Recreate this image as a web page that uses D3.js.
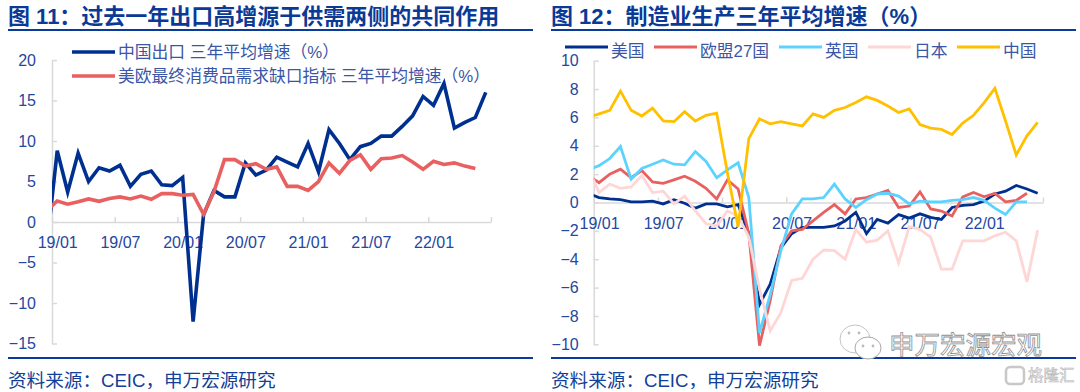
<!DOCTYPE html>
<html>
<head>
<meta charset="utf-8">
<script src="https://cdn.jsdelivr.net/npm/d3@7"></script>
<style>
html, body { margin: 0; padding: 0; background: #fff; }
svg { display: block; }
text { font-family: "Liberation Sans", "Noto Sans CJK SC", sans-serif; }
.title { font-size: 22px; font-weight: bold; fill: #0a3a96; }
.source { font-size: 18.6px; fill: #123f98; }
.legend { font-size: 16.8px; fill: #3a56a6; }
.tick text { font-size: 16px; fill: #24479f; }
.axis path, .axis line { stroke: #d9d9d9; stroke-width: 1.5; }
</style>
</head>
<body>
<svg id="chart" width="1080" height="392"></svg>
<script>
// month ticks shared by both charts (months since 19/01)
const tickMonths = [0, 6, 12, 18, 24, 30, 36, 42];
const tickLabels = ['19/01', '19/07', '20/01', '20/07', '21/01', '21/07', '22/01', ''];

// figure 11
const exportsCN = [-3, 8.8, 3.7, 8.5, 5.0, 6.7, 6.3, 7.0, 4.4, 5.9, 6.3, 4.6, 4.5, 5.5, -12.3, 0.9, 3.9, 3.1, 3.1, 7.3, 5.8, 6.4, 8.0, 7.4, 6.8, 9.7, 6.2, 11.4, 9.7, 7.7, 9.3, 9.7, 10.6, 10.6, 11.8, 13.1, 15.5, 14.4, 17.1, 11.6, 12.3, 12.9, 16.0];
const demandGap = [1.4, 2.6, 2.2, 2.5, 2.85, 2.55, 2.9, 3.1, 2.85, 3.2, 2.8, 3.5, 3.5, 3.3, 3.4, 0.95, 3.75, 7.7, 7.7, 6.9, 7.2, 6.5, 6.8, 4.4, 4.4, 3.9, 5.0, 7.3, 6.0, 7.6, 8.3, 6.5, 7.8, 7.9, 8.2, 7.4, 6.5, 7.5, 7.1, 7.3, 6.9, 6.6];
const leftTicks = [-15, -10, -5, 0, 5, 10, 15, 20];

// figure 12
const usa = [0.65, 0.35, 0.25, 0.2, 0.05, 0.05, 0.1, -0.1, 0.2, -0.05, -0.4, -0.1, -0.1, -0.3, -0.15, -2.2, -7.2, -5.75, -3.2, -2.2, -1.75, -1.75, -1.75, -1.65, -1.3, -0.7, -2.2, -1.2, -1.45, -0.85, -1.1, -0.8, -1.05, -1.2, -0.35, -0.2, -0.15, 0.1, 0.6, 0.8, 1.2, 0.95, 0.65];
const eu27 = [1.9, 1.4, 2.0, 2.35, 1.75, 2.25, 1.45, 1.35, 1.6, 1.85, 1.5, 1.0, 0.25, 1.6, 0.95, -2.2, -10.1, -6.9, -3.05, -2.0, -1.9, -1.3, -0.7, -0.15, -0.8, 0.25, 0.35, 0.6, 0.85, -0.35, -0.25, 0.75, -0.45, -0.6, -0.95, 0.4, 0.7, 0.4, 0.65, 0.05, 0.15, 0.65];
const uk = [2.3, 2.6, 3.1, 3.95, 1.65, 2.4, 2.7, 3.0, 2.7, 2.65, 3.6, 2.9, 1.75, 2.3, 2.8, 0.35, -9.2, -6.5, -3.4, -0.8, 0.25, 0.25, 0.35, 1.3, 0.25, -0.35, 0.2, 0.6, 0.65, 0.45, -0.1, 0.1, 0.05, 0.05, 0.15, 0.2, 0.35, 0.15, -0.4, -0.85, 0.05, 0.05];
const japan = [2.4, 0.7, 1.3, 1.0, 1.1, 1.9, 0.7, 0.8, -0.1, 0.45, -0.6, -1.5, -1.65, -0.6, -0.95, -2.45, -6.1, -9.05, -7.75, -5.5, -5.35, -4.0, -3.35, -3.4, -4.0, -1.9, -2.8, -2.65, -2.0, -4.25, -1.7, -1.9, -2.45, -4.7, -4.7, -2.7, -2.7, -2.7, -2.35, -2.1, -2.7, -5.6, -1.95];
const china = [6.0, 6.25, 6.5, 7.85, 6.5, 6.1, 6.65, 5.75, 5.7, 6.4, 5.75, 6.15, 6.3, 2.1, -1.7, 4.5, 5.9, 5.55, 5.7, 5.55, 5.4, 6.25, 6.0, 6.5, 6.7, 7.05, 7.45, 7.2, 6.8, 6.35, 6.6, 5.5, 5.25, 5.15, 4.8, 5.6, 6.15, 7.05, 8.05, 5.75, 3.35, 4.7, 5.65];
const rightTicks = [-10, -8, -6, -4, -2, 0, 2, 4, 6, 8, 10];

const svg = d3.select('#chart');

function drawPanel(cfg) {
    const g = svg.append('g');
    const x = d3.scaleLinear().domain([0, 42]).range([cfg.left, cfg.right]);
    const y = d3.scaleLinear().domain(cfg.yDomain).range([cfg.bottom, cfg.top]);

    // header and footer
    g.append('text').attr('class', 'title').attr('x', cfg.frameLeft).attr('y', 24).text(cfg.title);
    g.append('line').attr('x1', cfg.frameLeft).attr('x2', cfg.frameRight).attr('y1', 30).attr('y2', 30)
        .attr('stroke', '#0a3a9c').attr('stroke-width', 2);
    g.append('line').attr('x1', cfg.frameLeft).attr('x2', cfg.frameRight).attr('y1', 358).attr('y2', 358)
        .attr('stroke', '#0a3a9c').attr('stroke-width', 2);
    g.append('text').attr('class', 'source').attr('x', cfg.frameLeft).attr('y', 387).text('资料来源：CEIC，申万宏源研究');

    // axes
    g.append('g').attr('class', 'axis')
        .attr('transform', `translate(${cfg.left},0)`)
        .call(d3.axisLeft(y).tickValues(cfg.yTicks).tickSize(-5).tickSizeOuter(0).tickPadding(cfg.yPad));
    const xAxis = g.append('g').attr('class', 'axis')
        .attr('transform', `translate(0,${y(0)})`)
        .call(d3.axisBottom(x).tickValues(tickMonths).tickSize(-5).tickSizeOuter(0)
            .tickFormat((d, i) => tickLabels[i]));
    // labels sit in the middle of their month, ticks on the boundary
    xAxis.selectAll('.tick text')
        .attr('dx', x(0.5) - x(0))
        .attr('y', cfg.xLabelY)
        .attr('dy', '0');

    // lines, first value belongs to the month before the axis and gets clipped
    const clipId = 'clip' + cfg.left;
    g.append('clipPath').attr('id', clipId).append('rect')
        .attr('x', cfg.left).attr('y', 0).attr('width', cfg.right - cfg.left + 2).attr('height', 392);
    const line = d3.line().x((d, i) => x(i - 0.5)).y((d) => y(d)).curve(d3.curveLinear);
    g.append('g').attr('clip-path', `url(#${clipId})`)
        .selectAll('path').data(cfg.series).join('path')
        .attr('d', (d) => line(d.values))
        .attr('fill', 'none')
        .attr('stroke', (d) => d.color)
        .attr('stroke-width', cfg.lineWidth)
        .attr('stroke-linejoin', 'miter');

    // legend
    cfg.series.forEach((s) => {
        g.append('line').attr('x1', s.lx).attr('x2', s.lx + 43).attr('y1', s.ly).attr('y2', s.ly)
            .attr('stroke', s.color).attr('stroke-width', cfg.lineWidth);
        g.append('text').attr('class', 'legend').attr('x', s.lx + cfg.legendGap).attr('y', s.ly + cfg.legendDy).text(s.name);
    });
}

drawPanel({
    title: '图 11：过去一年出口高增源于供需两侧的共同作用',
    frameLeft: 8, frameRight: 533,
    left: 52, right: 491, top: 60, bottom: 343.5,
    yDomain: [-15, 20], yTicks: leftTicks, yPad: 16, xLabelY: 26,
    lineWidth: 3.6, legendGap: 46, legendDy: 6,
    series: [
        { name: '中国出口 三年平均增速（%）', values: exportsCN, color: '#00308f', lx: 72, ly: 52 },
        { name: '美欧最终消费品需求缺口指标 三年平均增速（%）', values: demandGap, color: '#e96060', lx: 72, ly: 76 }
    ]
});

drawPanel({
    title: '图 12：制造业生产三年平均增速（%）',
    frameLeft: 551, frameRight: 1076,
    left: 593.7, right: 1043, top: 60.7, bottom: 344.3,
    yDomain: [-10, 10], yTicks: rightTicks, yPad: 15, xLabelY: 26,
    lineWidth: 2.8, legendGap: 46, legendDy: 10,
    series: [
        { name: '美国', values: usa, color: '#00308f', lx: 565, ly: 47 },
        { name: '欧盟27国', values: eu27, color: '#e96060', lx: 654, ly: 47 },
        { name: '英国', values: uk, color: '#5cd3ff', lx: 779, ly: 47 },
        { name: '日本', values: japan, color: '#ffd6d6', lx: 868, ly: 47 },
        { name: '中国', values: china, color: '#ffc000', lx: 957, ly: 47 }
    ]
});

// watermarks
const wm = svg.append('g');
wm.append('ellipse').attr('cx', 855).attr('cy', 339).attr('rx', 15).attr('ry', 14)
    .attr('fill', '#fff').attr('stroke', '#c4c4c4').attr('stroke-width', 1);
wm.append('ellipse').attr('cx', 868).attr('cy', 348).attr('rx', 13).attr('ry', 11)
    .attr('fill', '#fff').attr('stroke', '#a8a8a8').attr('stroke-width', 1);
wm.selectAll('circle').data([[849, 333], [859, 333], [863, 346], [873, 346]]).join('circle')
    .attr('cx', (d) => d[0]).attr('cy', (d) => d[1]).attr('r', 1.4).attr('fill', '#bbb');
wm.append('text').attr('x', 889).attr('y', 354).attr('font-size', 25.5)
    .attr('fill', '#fff').attr('stroke', '#8f8f8f').attr('stroke-width', 0.8)
    .text('申万宏源宏观');
wm.append('rect').attr('x', 1006).attr('y', 367).attr('width', 18).attr('height', 17).attr('rx', 4)
    .attr('fill', 'none').attr('stroke', '#c8c8c8').attr('stroke-width', 2.5);
wm.append('text').attr('x', 1028).attr('y', 381).attr('font-size', 15.5)
    .attr('fill', '#fff').attr('stroke', '#b5b5b5').attr('stroke-width', 0.6)
    .text('格隆汇');
</script>
</body>
</html>
